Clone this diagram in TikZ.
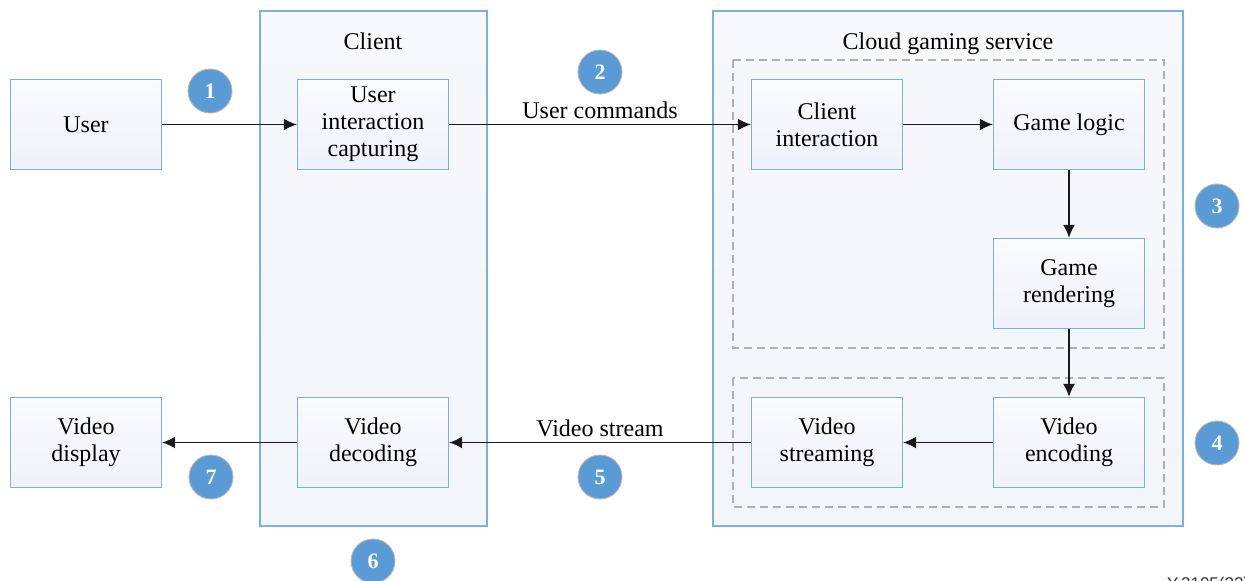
\documentclass[tikz,border=0pt]{standalone}
\usepackage{fontspec}
\setmainfont{Liberation Serif}
\newfontfamily\labelsans{Liberation Sans}
\usetikzlibrary{arrows.meta}
\definecolor{boxedge}{HTML}{7DB0E0}
\definecolor{boxfill}{HTML}{F2F5FA}
\definecolor{badge}{HTML}{5B9BD5}
\definecolor{dashgray}{HTML}{B0B0B0}
\tikzset{
  txt/.style={font=\fontsize{24}{27}\selectfont, align=center},
  stage/.style={draw=boxedge, line width=1.3pt, top color=white!60!boxfill, bottom color=boxfill!95!blue!60!white,
    minimum width=151pt, minimum height=90pt, inner sep=0pt, txt},
  region/.style={draw=boxedge, line width=1.3pt, top color=boxfill!70!white, bottom color=boxfill},
  group/.style={draw=dashgray, line width=1.1pt, dash pattern=on 8pt off 5pt},
  flow/.style={line width=1.6pt, draw=black!90, -{Latex[length=13pt,width=12pt]}},
  num/.style={circle, fill=badge, draw=gray!55, line width=0.9pt, minimum size=44pt, inner sep=0pt,
    text=white, font=\fontsize{22}{22}\selectfont\bfseries}
}
\begin{document}
\begin{tikzpicture}[x=1pt,y=-1pt]
\useasboundingbox (0,0) rectangle (1245,581);
% outer regions
\fill[white] (0,0) rectangle (1245,581);
\draw[region] (260,11) rectangle (487,526);
\draw[region] (713,11) rectangle (1183,526);
\node[txt, anchor=base] (clientT) at (373,49) {Client};
\node[txt, anchor=base] (cloudT) at (948,49) {Cloud gaming service};
% dashed groups
\draw[group] (733,60) rectangle (1164,348);
\draw[group] (733,378) rectangle (1164,507);
% stages
\node[stage] (user) at (86,124.5) {User};
\node[stage] (uic) at (373,124.5) {User\\interaction\\capturing};
\node[stage] (ci) at (827,124.5) {Client\\interaction};
\node[stage] (gl) at (1069,124.5) {Game logic};
\node[stage] (gr) at (1069,283.5) {Game\\rendering};
\node[stage] (ve) at (1069,442.5) {Video\\encoding};
\node[stage] (vs) at (827,442.5) {Video\\streaming};
\node[stage] (vd) at (373,442.5) {Video\\decoding};
\node[stage] (vdisp) at (86,442.5) {Video\\display};
% connectors
\draw[flow] (user) -- (uic);
\draw[flow] (uic) -- node[txt, above=2pt] (cmd) {User commands} (ci);
\draw[flow] (ci) -- (gl);
\draw[flow] (gl) -- (gr);
\draw[flow] (gr) -- (ve);
\draw[flow] (ve) -- (vs);
\draw[flow] (vs) -- node[txt, above=2pt] (strm) {Video stream} (vd);
\draw[flow] (vd) -- (vdisp);
% step badges
\node[num] (n1) at (210,91) {1};
\node[num] (n2) at (600,72) {2};
\node[num] (n3) at (1217,206) {3};
\node[num] (n4) at (1217,443) {4};
\node[num] (n5) at (600,477) {5};
\node[num] (n6) at (373,561) {6};
\node[num] (n7) at (211,477) {7};
% reference tag, running off the lower edge
\node[anchor=north west, inner sep=0pt, font=\labelsans\fontsize{17}{17}\selectfont, text=black!80] (tag) at (1167,577) {Y.3105(22)};
\end{tikzpicture}
\end{document}
